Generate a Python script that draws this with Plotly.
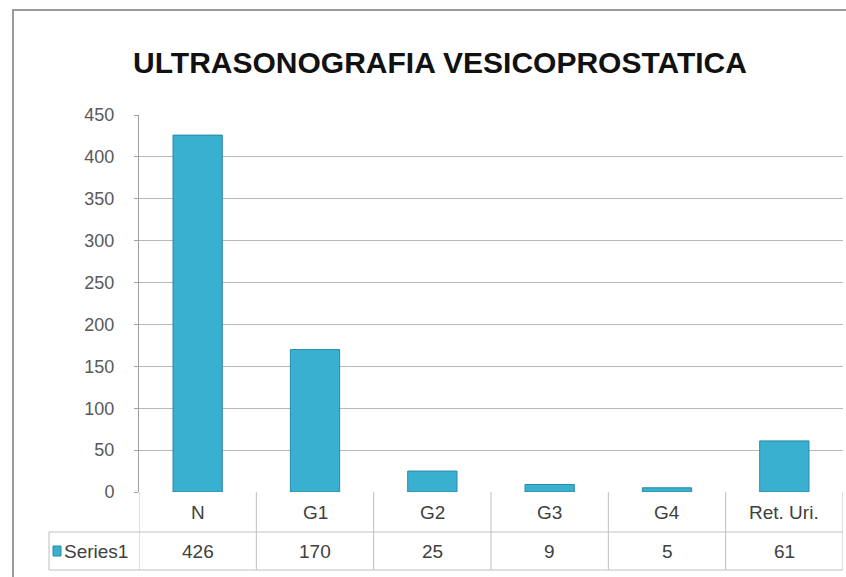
import plotly.graph_objects as go

categories = ["N", "G1", "G2", "G3", "G4", "Ret. Uri."]
values = [426, 170, 25, 9, 5, 61]
series_name = "Series1"
y_ticks = [0, 50, 100, 150, 200, 250, 300, 350, 400, 450]
title_text = "ULTRASONOGRAFIA VESICOPROSTATICA"

W, H = 846, 577
ML, MR, MT, MB = 139, 3, 115, 85
PW = W - ML - MR
PH = H - MT - MB

def px_x(px):
    return (px - ML) / PW

def px_y(py):
    return (H - MB - py) / PH

FONT = "Liberation Sans, Arial, sans-serif"
BAR = "#3AB0D0"
BAR_LINE = "#2A88A6"
GRID = "#B8B8B8"
TXT = "#404040"

fig = go.Figure()
fig.add_trace(go.Bar(
    x=list(range(len(categories))), y=values, name=series_name,
    width=0.42, marker=dict(color=BAR, line=dict(color=BAR_LINE, width=1)),
    showlegend=False,
))

shapes = []
annotations = []
row1_top = px_y(492)
row_mid = px_y(532)
row_bot = px_y(570)

# outer frame
shapes.append(dict(type="rect", xref="paper", yref="paper",
                   x0=px_x(13), x1=px_x(860), y0=px_y(600), y1=px_y(10),
                   line=dict(color="#9A9A9A", width=2), layer="below"))

# table lines
for yy in (row_mid, row_bot):
    shapes.append(dict(type="line", xref="paper", yref="paper", x0=px_x(49), x1=1,
                       y0=yy, y1=yy, line=dict(color="#BFBFBF", width=1)))
shapes.append(dict(type="line", xref="paper", yref="paper", x0=px_x(49), x1=px_x(49),
                   y0=row_mid, y1=row_bot, line=dict(color="#BFBFBF", width=1)))
for i in range(len(categories) + 1):
    xb = i - 0.5
    shapes.append(dict(type="line", xref="x", yref="paper", x0=xb, x1=xb,
                       y0=row1_top, y1=row_bot, line=dict(color="#BFBFBF", width=1)))
# legend key square
shapes.append(dict(type="rect", xref="paper", yref="paper",
                   x0=px_x(53), x1=px_x(61), y0=px_y(556), y1=px_y(546),
                   fillcolor=BAR, line=dict(color=BAR_LINE, width=1)))

cell_font = dict(family=FONT, size=19, color=TXT)
for i, (c, v) in enumerate(zip(categories, values)):
    annotations.append(dict(x=i, y=(row1_top + row_mid) / 2, xref="x", yref="paper",
                            xanchor="center", yanchor="middle",
                            text=c, showarrow=False, font=cell_font))
    annotations.append(dict(x=i, y=(row_mid + row_bot) / 2, xref="x", yref="paper",
                            xanchor="center", yanchor="middle",
                            text=str(v), showarrow=False, font=cell_font))
annotations.append(dict(x=px_x(62), y=(row_mid + row_bot) / 2, xref="paper", yref="paper",
                        xanchor="left", yanchor="middle", text=series_name, showarrow=False,
                        font=cell_font))

fig.update_layout(
    width=W, height=H,
    margin=dict(l=ML, r=MR, t=MT, b=MB),
    paper_bgcolor="white", plot_bgcolor="white",
    title=dict(text="<b>" + title_text + "</b>", x=440 / W, xanchor="center",
               y=1 - 62 / H, yanchor="middle", xref="container", yref="container",
               font=dict(family=FONT, size=30, color="#111111")),
    xaxis=dict(range=[-0.5, len(categories) - 0.5], showticklabels=False, showgrid=False,
               zeroline=False, showline=False, ticks=""),
    yaxis=dict(range=[0, 450], tickvals=y_ticks, showgrid=True, gridcolor=GRID, gridwidth=1,
               zeroline=False, showline=True, linecolor="#A0A0A0", linewidth=1,
               ticks="outside", ticklen=4, tickcolor="#A0A0A0",
               tickfont=dict(family=FONT, size=18, color="#595959"), ticklabelstandoff=16),
    shapes=shapes, annotations=annotations,
)

fig.write_html("out.html", config={"displayModeBar": False},
               post_script="document.body.style.margin='0px';document.body.style.padding='0px';")
